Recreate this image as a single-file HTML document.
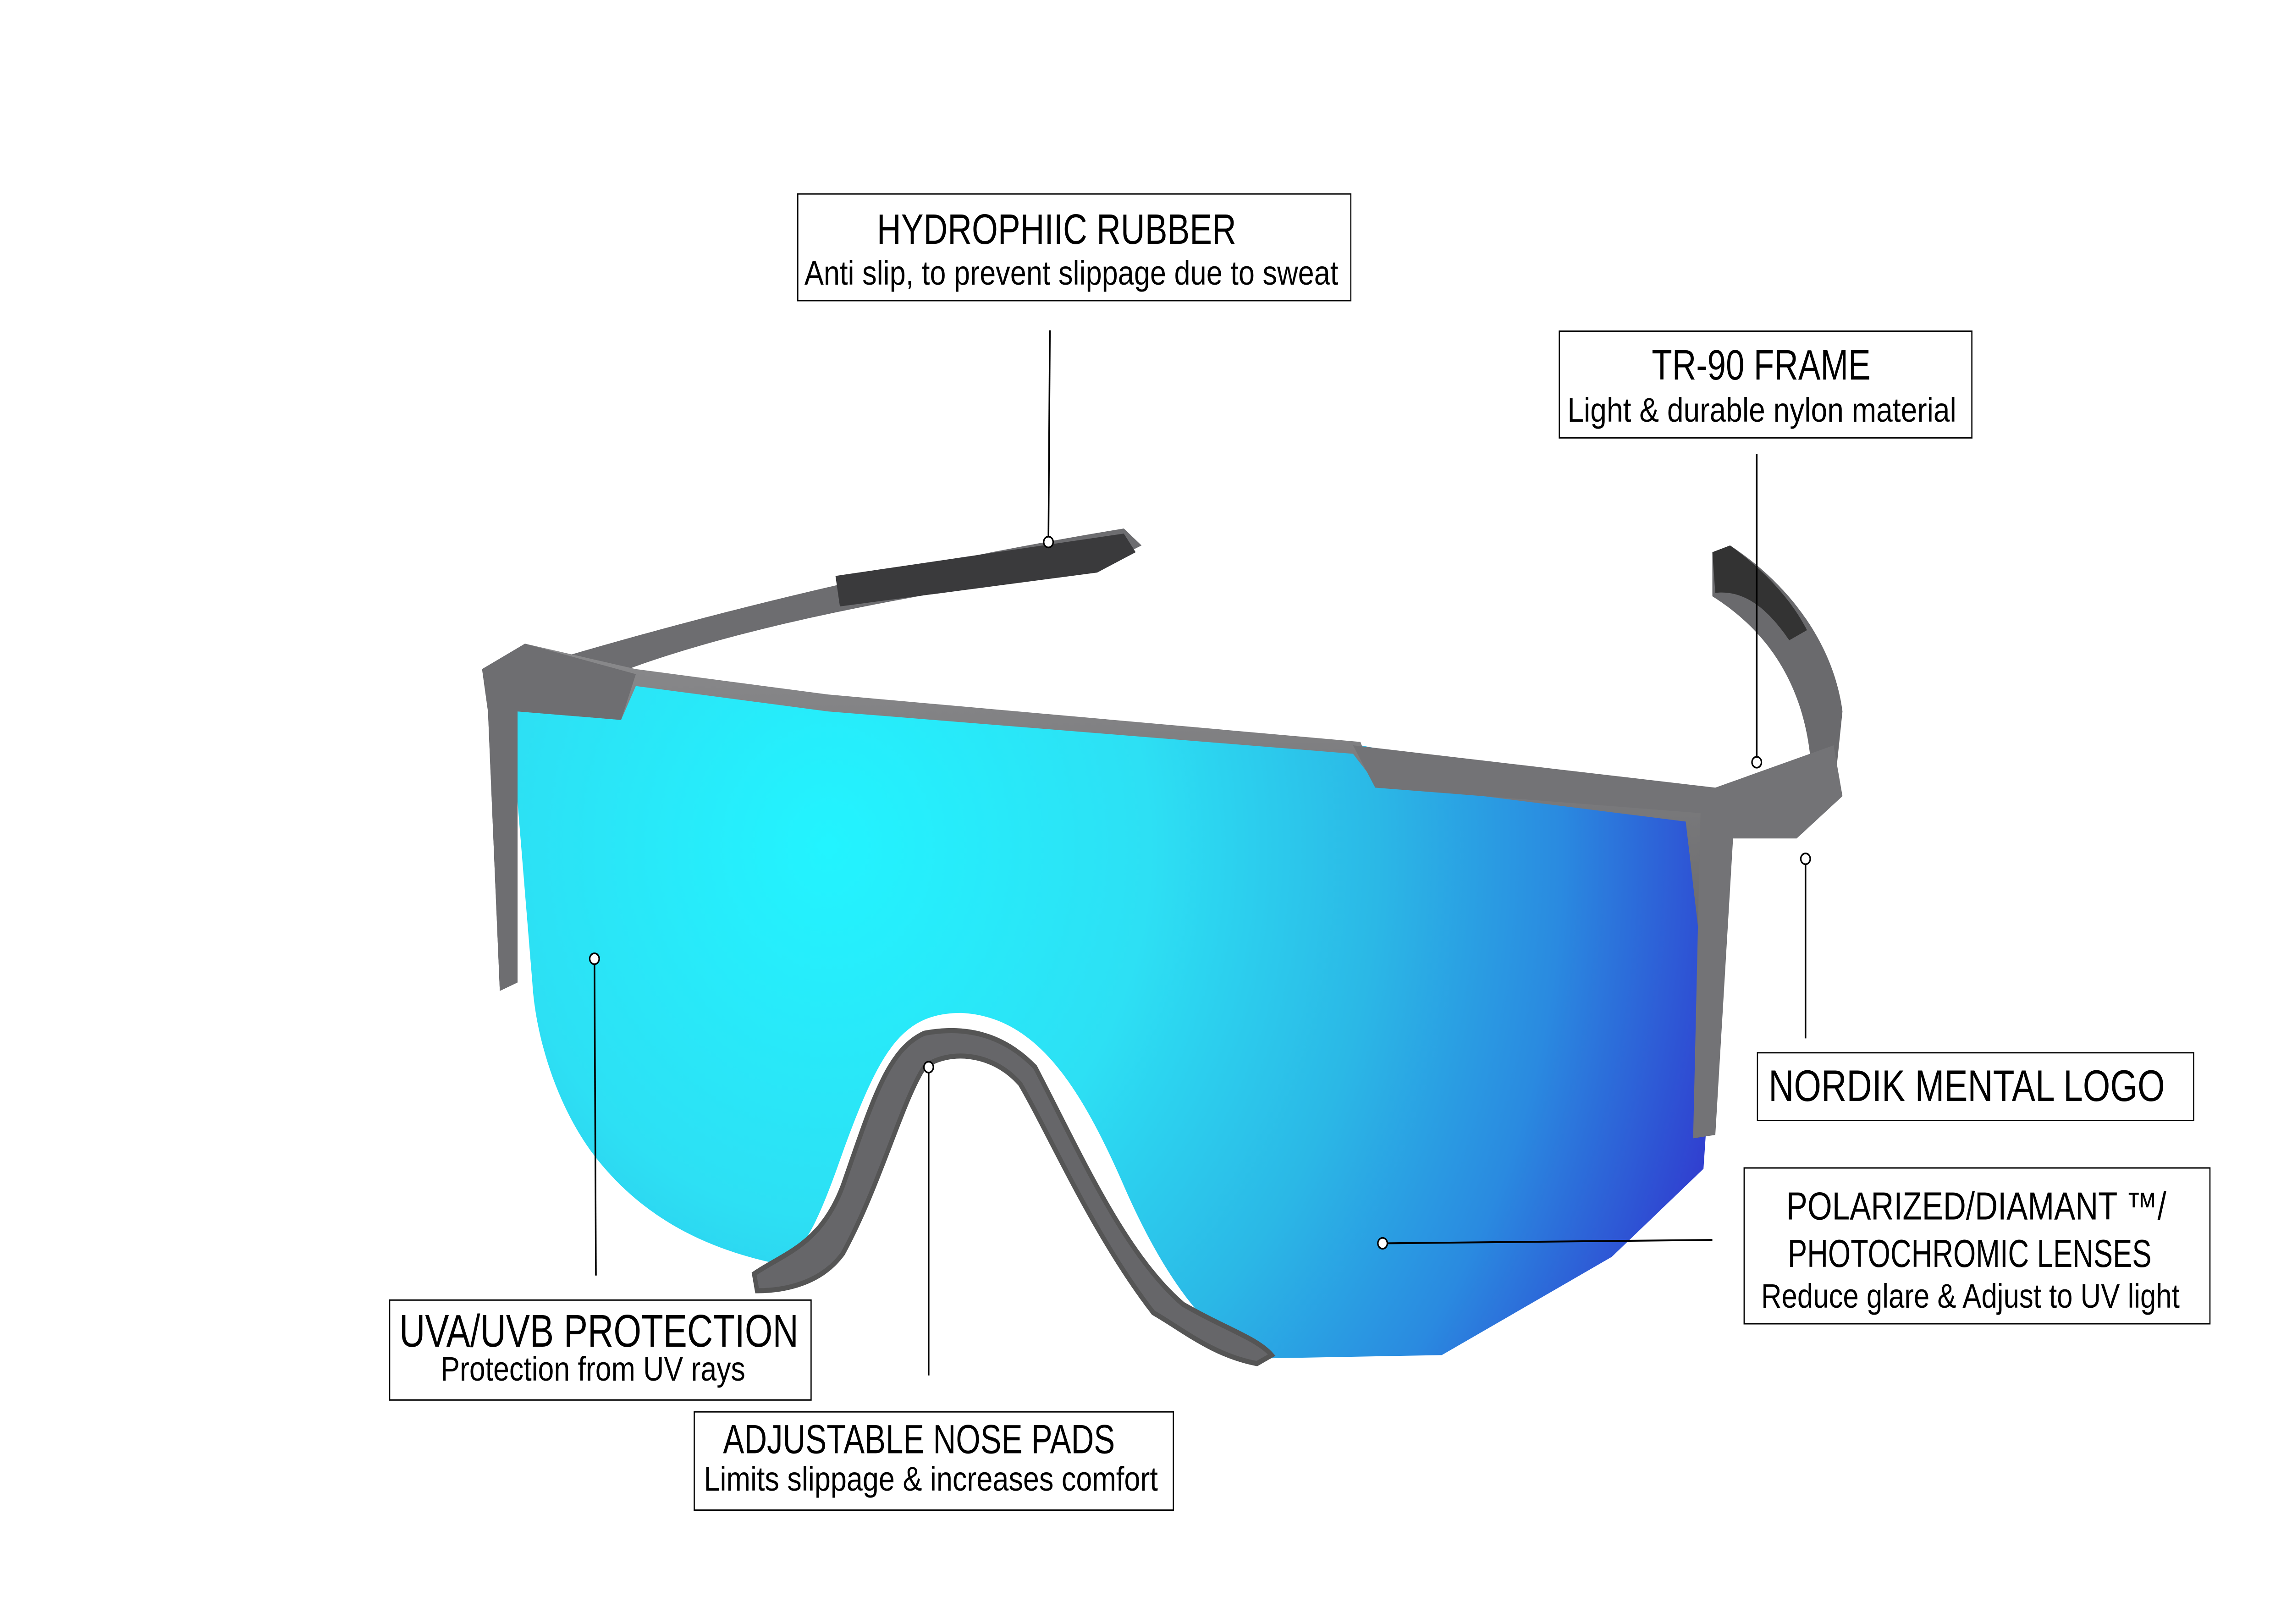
<!DOCTYPE html>
<html><head><meta charset="utf-8"><style>
html,body{margin:0;padding:0;background:#fff;width:100%;height:100%;overflow:hidden;}
svg{display:block;position:fixed;left:0;top:0;width:100vw;height:100vh;}
text{font-family:"Liberation Sans",sans-serif;fill:#000;}
</style></head><body>
<svg viewBox="0 0 5728 3543" preserveAspectRatio="none" xmlns="http://www.w3.org/2000/svg">
<defs>
<radialGradient id="lens" cx="560" cy="500" r="620" gradientUnits="userSpaceOnUse">
<stop offset="0" stop-color="#22f4ff"/>
<stop offset="0.35" stop-color="#2de0f4"/>
<stop offset="0.6" stop-color="#2bb8e6"/>
<stop offset="0.8" stop-color="#2a8ae0"/>
<stop offset="1" stop-color="#3040d0"/>
</radialGradient>
<linearGradient id="frame" x1="0" y1="0" x2="0" y2="1">
<stop offset="0" stop-color="#8a8a8c"/><stop offset="1" stop-color="#555558"/>
</linearGradient>
</defs>
<rect width="5728" height="3543" fill="#fff"/>
<g transform="scale(3.6955)">
<path d="M380,388 C470,365 600,335 760,312 L772,322 L740,336 C600,352 480,375 410,400 Z" fill="#6d6d70"/>
<path d="M565,340 L760,315 L768,326 L742,338 L568,358 Z" fill="#3a3a3c"/>
<path d="M1158,326 L1170,322 C1210,345 1240,380 1246,420 L1240,470 L1225,455 C1222,410 1200,375 1158,352 Z" fill="#6a6a6d"/>
<path d="M1158,326 L1170,322 C1195,338 1212,355 1222,372 L1210,378 C1196,360 1180,348 1160,350 Z" fill="#333"/>
<path d="M345,420 L430,400 L920,440 L1150,478 L1162,560 L1152,690 L1090,742 L975,800 L850,802 C820,790 790,760 760,700 C730,640 700,600 650,598 C610,598 595,620 570,680 C550,730 540,745 520,745 C470,735 430,715 400,680 C375,650 362,610 360,580 Z" fill="url(#lens)"/>
<path d="M326,395 L355,380 L430,395 L560,410 L920,438 L930,460 L1040,470 L1150,470 L1165,480 L1160,560 L1155,668 L1148,672 L1150,560 L1140,485 L930,462 L915,445 L560,420 L430,405 L420,425 L350,420 L350,580 L338,585 L330,420 Z" fill="url(#frame)"/>
<path d="M915,440 L1160,465 L1240,440 L1246,470 L1215,495 L1172,495 L1160,670 L1145,672 L1150,480 L930,465 Z" fill="#737376"/>
<path d="M326,395 L355,380 L430,398 L420,425 L350,420 L350,580 L338,585 L330,420 Z" fill="#6e6e71"/>
<path d="M510,752 C530,740 555,735 570,700 C590,650 600,620 625,610 C655,605 680,612 700,630 C730,680 760,740 800,770 C830,785 850,790 860,800 L850,805 C820,800 800,785 780,775 C740,730 710,670 690,640 C670,620 640,620 625,630 C610,650 595,700 570,740 C555,758 530,762 512,762 Z" fill="#666669" stroke="#555" stroke-width="3"/>
<g stroke="#000" stroke-width="1.1" fill="none">
<line x1="710" y1="195" x2="709" y2="320"/>
<line x1="1188" y1="268" x2="1188" y2="450"/>
<line x1="1221" y1="505" x2="1221" y2="613"/>
<line x1="935" y1="734" x2="1158" y2="732"/>
<line x1="402" y1="566" x2="403" y2="753"/>
<line x1="628" y1="630" x2="628" y2="812"/>
</g>
<g fill="#fff" stroke="#000" stroke-width="1">
<circle cx="709" cy="320" r="3.2"/><circle cx="1188" cy="450" r="3.2"/><circle cx="1221" cy="507" r="3.2"/>
<circle cx="935" cy="734" r="3.2"/><circle cx="402" cy="566" r="3.2"/><circle cx="628" cy="630" r="3.2"/>
</g>
<g fill="#fff" stroke="#000" stroke-width="0.8">
<rect x="539.5" y="114.5" width="374" height="63"/>
<rect x="1054.5" y="195.5" width="279" height="63"/>
<rect x="1188.5" y="621.5" width="295" height="40"/>
<rect x="1179.5" y="689.5" width="315" height="92"/>
<rect x="263.5" y="767.5" width="285" height="59"/>
<rect x="469.5" y="833.5" width="324" height="58"/>
</g>
<text x="593" y="144" font-size="25" textLength="243" lengthAdjust="spacingAndGlyphs">HYDROPHIIC RUBBER</text>
<text x="544" y="168" font-size="20" textLength="361" lengthAdjust="spacingAndGlyphs">Anti slip, to prevent slippage due to sweat</text>
<text x="1117" y="224" font-size="25" textLength="148" lengthAdjust="spacingAndGlyphs">TR-90 FRAME</text>
<text x="1060" y="249" font-size="20" textLength="263" lengthAdjust="spacingAndGlyphs">Light &amp; durable nylon material</text>
<text x="1196" y="650" font-size="26" textLength="268" lengthAdjust="spacingAndGlyphs">NORDIK MENTAL LOGO</text>
<text x="1208" y="720" font-size="23" textLength="257" lengthAdjust="spacingAndGlyphs">POLARIZED/DIAMANT ™/</text>
<text x="1209" y="748" font-size="23" textLength="246" lengthAdjust="spacingAndGlyphs">PHOTOCHROMIC LENSES</text>
<text x="1191" y="772" font-size="20" textLength="283" lengthAdjust="spacingAndGlyphs">Reduce glare &amp; Adjust to UV light</text>
<text x="270" y="795" font-size="27" textLength="270" lengthAdjust="spacingAndGlyphs">UVA/UVB PROTECTION</text>
<text x="298" y="815" font-size="20" textLength="206" lengthAdjust="spacingAndGlyphs">Protection from UV rays</text>
<text x="489" y="858" font-size="24" textLength="265" lengthAdjust="spacingAndGlyphs">ADJUSTABLE NOSE PADS</text>
<text x="476" y="880" font-size="20" textLength="307" lengthAdjust="spacingAndGlyphs">Limits slippage &amp; increases comfort</text>
</g>
</svg>
</body></html>
